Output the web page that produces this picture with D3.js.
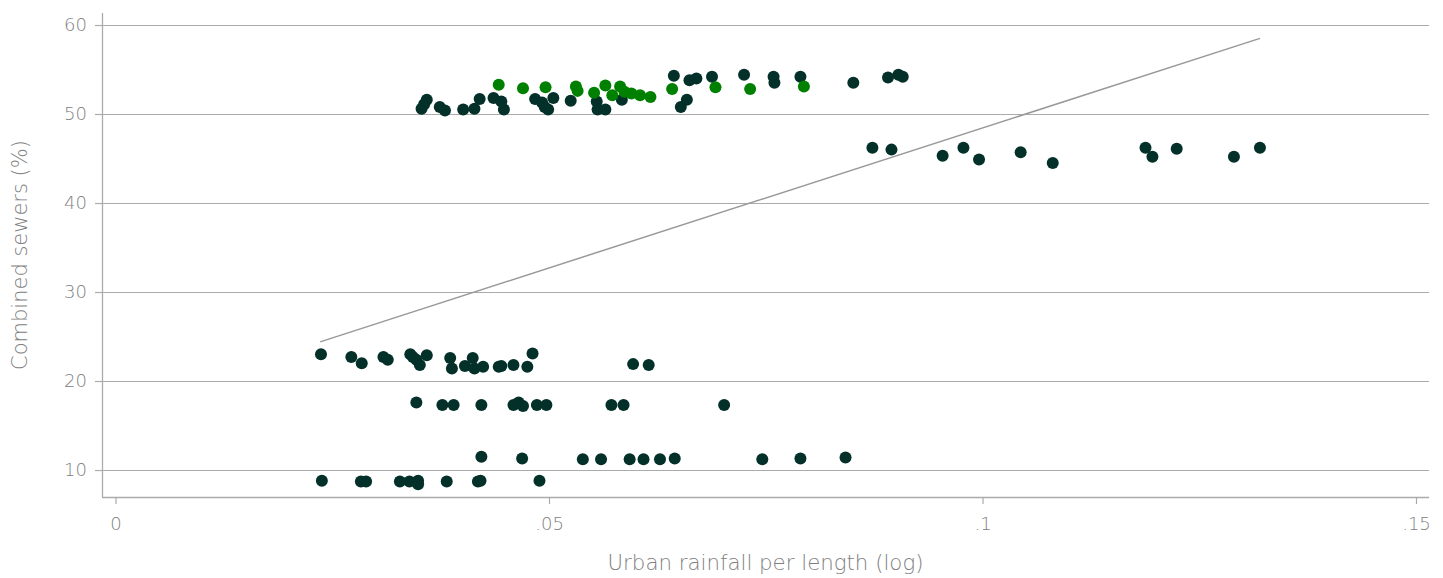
<!DOCTYPE html>
<html>
<head>
<meta charset="utf-8">
<script src="https://cdn.jsdelivr.net/npm/d3@7"></script>
<style>
  html, body { margin: 0; padding: 0; background: #fff; }
  svg { display: block; font-family: "DejaVu Sans", sans-serif; }
</style>
</head>
<body>
<svg id="chart" width="1443" height="578"></svg>
<script>
// Dark points (x: urban rainfall per length, y: combined sewers %)
const darkX = [
  0.0237, 0.0272, 0.0284, 0.0309, 0.0314, 0.0340, 0.0343, 0.0347, 0.0351, 0.0359,
  0.0386, 0.0388, 0.0403, 0.0412, 0.0414, 0.0424, 0.0442, 0.0445, 0.0459, 0.0475,
  0.0481, 0.0597, 0.0615,
  0.0347, 0.0377, 0.0390, 0.0422, 0.0459, 0.0465, 0.0470, 0.0486, 0.0497, 0.0572,
  0.0586, 0.0702,
  0.0422, 0.0469, 0.0539, 0.0560, 0.0593, 0.0609, 0.0628, 0.0645, 0.0746, 0.0790,
  0.0842,
  0.0238, 0.0283, 0.0289, 0.0328, 0.0339, 0.0349, 0.0349, 0.0382, 0.0418, 0.0421,
  0.0489,
  0.0353, 0.0356, 0.0359, 0.0374, 0.0380, 0.0401, 0.0414, 0.0420, 0.0436, 0.0445,
  0.0448, 0.0484, 0.0492, 0.0495, 0.0499, 0.0505, 0.0525, 0.0555, 0.0556, 0.0565,
  0.0584, 0.0644, 0.0652, 0.0659, 0.0662, 0.0670, 0.0688, 0.0725, 0.0759, 0.0760,
  0.0790, 0.0851, 0.0891, 0.0903, 0.0908,
  0.0873, 0.0895, 0.0954, 0.0978, 0.0996, 0.1044, 0.1081, 0.1188, 0.1196, 0.1224,
  0.1290, 0.1320
];
const darkY = [
  23.0, 22.7, 22.0, 22.7, 22.4, 23.0, 22.7, 22.4, 21.8, 22.9,
  22.6, 21.4, 21.7, 22.6, 21.4, 21.6, 21.6, 21.7, 21.8, 21.6,
  23.1, 21.9, 21.8,
  17.6, 17.3, 17.3, 17.3, 17.3, 17.6, 17.2, 17.3, 17.3, 17.3,
  17.3, 17.3,
  11.5, 11.3, 11.2, 11.2, 11.2, 11.2, 11.2, 11.3, 11.2, 11.3,
  11.4,
  8.8, 8.7, 8.7, 8.7, 8.7, 8.8, 8.4, 8.7, 8.7, 8.8,
  8.8,
  50.6, 51.1, 51.6, 50.8, 50.4, 50.5, 50.6, 51.7, 51.8, 51.4,
  50.5, 51.7, 51.3, 50.8, 50.5, 51.8, 51.5, 51.4, 50.5, 50.5,
  51.6, 54.3, 50.8, 51.6, 53.8, 54.0, 54.2, 54.4, 54.2, 53.5,
  54.2, 53.5, 54.1, 54.4, 54.2,
  46.2, 46.0, 45.3, 46.2, 44.9, 45.7, 44.5, 46.2, 45.2, 46.1,
  45.2, 46.2
];
// Highlighted (green) points
const greenX = [
  0.0442, 0.0470, 0.0496, 0.0531, 0.0533, 0.0552, 0.0565, 0.0573, 0.0582, 0.0587,
  0.0595, 0.0605, 0.0617, 0.0642, 0.0692, 0.0732, 0.0794
];
const greenY = [
  53.3, 52.9, 53.0, 53.1, 52.6, 52.4, 53.2, 52.1, 53.1, 52.5,
  52.3, 52.1, 51.9, 52.8, 53.0, 52.8, 53.1
];
// Fitted line endpoints
const fitX = [0.0236, 0.1320];
const fitY = [24.4, 58.5];
// Axis ticks
const xTicks = [0, 0.05, 0.1, 0.15];
const xTickLabels = ["0", ".05", ".1", ".15"];
const yTicks = [10, 20, 30, 40, 50, 60];
const xTitle = "Urban rainfall per length (log)";
const yTitle = "Combined sewers (%)";

const svg = d3.select("#chart");
const x = d3.scaleLinear().domain([-0.00156, 0.1515]).range([102, 1429]);
const y = d3.scaleLinear().domain([6.97, 61.35]).range([497, 13]);

const axisColor = "#ababab";
const textColor = "#808080";
const fontFam = "'DejaVu Sans', sans-serif";

// Gridlines
svg.append("g").selectAll("line").data(yTicks).join("line")
  .attr("x1", x.range()[0]).attr("x2", x.range()[1])
  .attr("y1", d => y(d)).attr("y2", d => y(d))
  .attr("stroke", axisColor).attr("stroke-width", 1).attr("shape-rendering", "crispEdges");

// Y axis
const yAxis = svg.append("g").attr("transform", `translate(${x.range()[0]},0)`)
  .call(d3.axisLeft(y).tickValues(yTicks).tickSize(7).tickPadding(8).tickFormat(d3.format("d")));
// X axis
const xAxis = svg.append("g").attr("transform", `translate(0,${y.range()[0]})`)
  .call(d3.axisBottom(x).tickValues(xTicks).tickSize(7).tickPadding(13)
    .tickFormat((d, i) => xTickLabels[i]));

[yAxis, xAxis].forEach(g => {
  g.select(".domain").attr("stroke", axisColor).attr("stroke-width", 1.3);
  g.selectAll(".tick line").attr("stroke", axisColor).attr("stroke-width", 1.2);
  g.selectAll(".tick text").attr("fill", textColor).attr("font-size", 18)
    .attr("font-weight", 300).attr("font-family", fontFam);
});
xAxis.select(".domain").attr("d", `M${x.range()[0]},0.5H${x.range()[1]}`);
yAxis.select(".domain").attr("d", `M0.5,${y.range()[0]}V${y.range()[1]}`);

// Fit line
svg.append("path")
  .datum(fitX.map((d, i) => [d, fitY[i]]))
  .attr("d", d3.line().x(d => x(d[0])).y(d => y(d[1])))
  .attr("fill", "none").attr("stroke", "#999999").attr("stroke-width", 1.5);

// Dark points
svg.append("g").selectAll("circle").data(darkX.map((d, i) => [d, darkY[i]])).join("circle")
  .attr("cx", d => x(d[0])).attr("cy", d => y(d[1])).attr("r", 6)
  .attr("fill", "#04302a");

// Green points
svg.append("g").selectAll("circle").data(greenX.map((d, i) => [d, greenY[i]])).join("circle")
  .attr("cx", d => x(d[0])).attr("cy", d => y(d[1])).attr("r", 6)
  .attr("fill", "#008000");

// Titles
svg.append("text")
  .attr("x", (x.range()[0] + x.range()[1]) / 2).attr("y", 570)
  .attr("text-anchor", "middle").attr("fill", textColor).attr("font-size", 21.3)
  .attr("font-weight", 300).attr("font-family", fontFam)
  .text(xTitle);
svg.append("text")
  .attr("transform", "translate(27,255) rotate(-90)")
  .attr("text-anchor", "middle").attr("fill", textColor).attr("font-size", 21)
  .attr("font-weight", 300).attr("font-family", fontFam)
  .text(yTitle);
</script>
</body>
</html>
